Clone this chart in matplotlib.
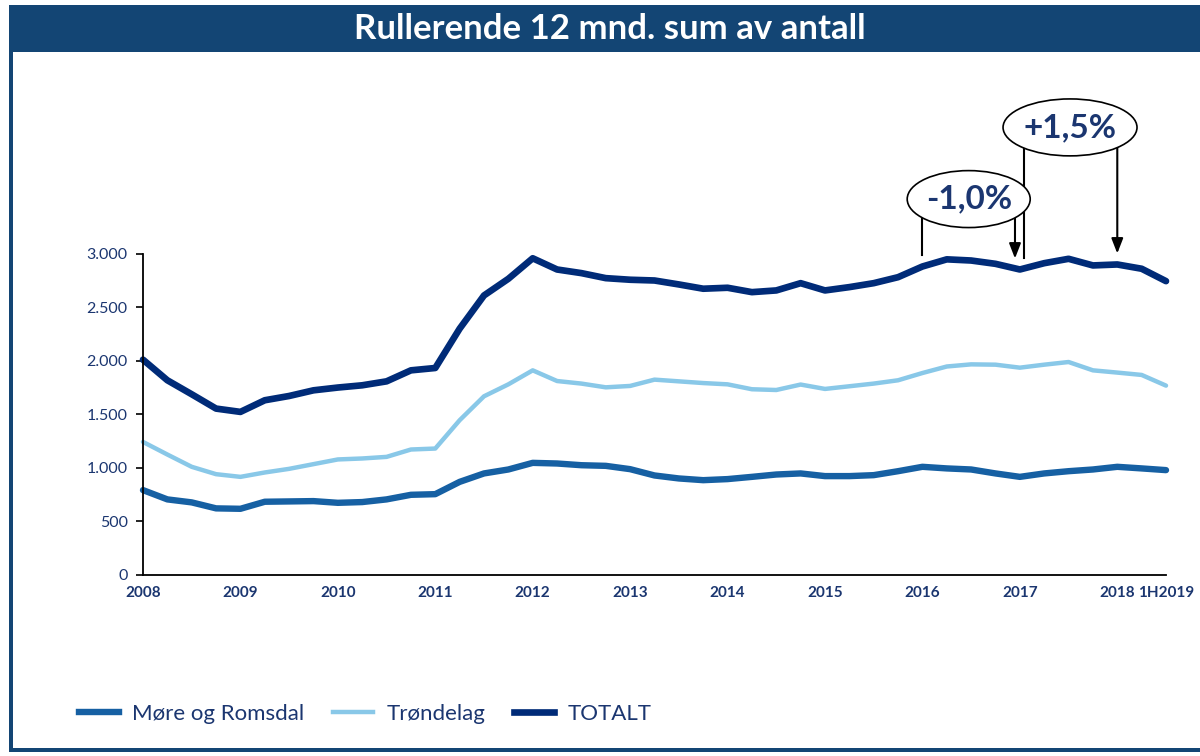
import matplotlib
matplotlib.use("Agg")
import matplotlib.pyplot as plt
from matplotlib.patches import Ellipse, Rectangle
from matplotlib.lines import Line2D

plt.rcParams["font.family"] = ["Lato", "DejaVu Sans"]

# Kvartalsvise punkter, 2008 til 1H2019
tick_pos = [0, 4, 8, 12, 16, 20, 24, 28, 32, 36, 40, 42]
tick_labels = ["2008", "2009", "2010", "2011", "2012", "2013", "2014",
               "2015", "2016", "2017", "2018", "1H2019"]

more_romsdal = [790, 703, 675, 619, 615, 681, 684, 687, 671, 678, 703, 746,
                752, 867, 946, 983, 1045, 1039, 1023, 1017, 986, 927, 899, 883,
                893, 914, 936, 946, 921, 921, 930, 967, 1008, 993, 983, 946,
                914, 946, 967, 983, 1008, 993, 977]
trondelag = [1241, 1123, 1008, 939, 914, 955, 989, 1033, 1077, 1086, 1101, 1170,
             1179, 1444, 1668, 1780, 1911, 1811, 1787, 1752, 1765, 1824, 1808, 1792,
             1780, 1734, 1727, 1778, 1737, 1762, 1787, 1818, 1886, 1947, 1967, 1964,
             1936, 1964, 1989, 1911, 1890, 1868, 1768]
totalt = [2011, 1818, 1687, 1553, 1522, 1631, 1671, 1724, 1750, 1771, 1808, 1911,
          1933, 2301, 2612, 2768, 2960, 2855, 2821, 2774, 2759, 2752, 2715, 2675,
          2684, 2643, 2659, 2727, 2659, 2690, 2727, 2783, 2883, 2950, 2939, 2908,
          2855, 2914, 2955, 2893, 2902, 2862, 2746]

NAVY = "#002b78"
MID = "#1660a3"
LIGHT = "#89c8e8"
TEXT = "#1b3670"
BANNER = "#134574"

fig = plt.figure(figsize=(12, 7.56), dpi=100)

# ramme og tittelfelt
fig.add_artist(Rectangle((9 / 1200, 1 - 52 / 756), 1 - 9 / 1200, 47 / 756,
                         transform=fig.transFigure, color=BANNER, lw=0))
fig.add_artist(Rectangle((9 / 1200, 4 / 756), 4 / 1200, 1 - 56 / 756,
                         transform=fig.transFigure, color=BANNER, lw=0))
fig.add_artist(Rectangle((9 / 1200, 4 / 756), 1 - 9 / 1200, 4 / 756,
                         transform=fig.transFigure, color=BANNER, lw=0))
fig.text(0.508, 1 - 29 / 756, "Rullerende 12 mnd. sum av antall", color="white",
         fontsize=25, fontweight="bold", ha="center", va="center")

ax = fig.add_axes([143 / 1200, (756 - 574.5) / 756, 1023 / 1200, 320.5 / 756])
x = list(range(len(totalt)))
ax.plot(x, more_romsdal, color=MID, lw=4.6, label="Møre og Romsdal",
        solid_capstyle="round", solid_joinstyle="round", clip_on=False)
ax.plot(x, trondelag, color=LIGHT, lw=3.2, label="Trøndelag",
        solid_capstyle="round", solid_joinstyle="round", clip_on=False)
ax.plot(x, totalt, color=NAVY, lw=4.8, label="TOTALT",
        solid_capstyle="round", solid_joinstyle="round", clip_on=False)

ax.set_xlim(0, 42)
ax.set_ylim(0, 3000)
ax.set_yticks([0, 500, 1000, 1500, 2000, 2500, 3000])
ax.set_yticklabels(["0", "500", "1.000", "1.500", "2.000", "2.500", "3.000"])
ax.set_xticks(tick_pos)
ax.set_xticklabels(tick_labels, fontweight="bold")
ax.tick_params(axis="y", length=5, width=1.2, colors="black", labelcolor=TEXT,
               labelsize=11.5, pad=6)
ax.tick_params(axis="x", length=0, labelcolor=TEXT, labelsize=11, pad=8)
for s in ["top", "right"]:
    ax.spines[s].set_visible(False)
for s in ["left", "bottom"]:
    ax.spines[s].set_linewidth(1.3)

# prosentendringer med ellipser og piler
def bubble(cx, cy, w, h, txt):
    ax.add_patch(Ellipse((cx, cy), w, h, facecolor="white", edgecolor="black",
                         lw=1.2, clip_on=False, zorder=5))
    ax.text(cx, cy, txt, ha="center", va="center", fontsize=24,
            fontweight="bold", color=TEXT, zorder=6, clip_on=False)


def leg(xv, y0, y1, arrow):
    if arrow:
        ax.annotate("", xy=(xv, y1), xytext=(xv, y0),
                    arrowprops=dict(arrowstyle="-|>,head_width=0.35,head_length=0.9",
                                    color="black", lw=1.5, shrinkA=0, shrinkB=0),
                    annotation_clip=False, zorder=4)
    else:
        ax.plot([xv, xv], [y0, y1], color="black", lw=1.5, clip_on=False, zorder=4)


leg(32.0, 3400, 2986, False)
leg(35.8, 3400, 2958, True)
leg(36.15, 4100, 2958, False)
leg(40.0, 4100, 3005, True)
bubble(33.9, 3514, 5.05, 533, "-1,0%")
bubble(38.06, 4185, 5.5, 533, "+1,5%")

handles = [Line2D([], [], color=MID, lw=4.6),
           Line2D([], [], color=LIGHT, lw=3.2),
           Line2D([], [], color=NAVY, lw=4.8)]
fig.legend(handles, ["Møre og Romsdal", "Trøndelag", "TOTALT"],
           loc="center left", bbox_to_anchor=(0.049, 1 - 714 / 756), ncol=3,
           frameon=False, fontsize=16, labelcolor=TEXT, handlelength=1.8,
           columnspacing=1.3, handletextpad=0.6)

fig.savefig("out.png", dpi=100, facecolor="white")
